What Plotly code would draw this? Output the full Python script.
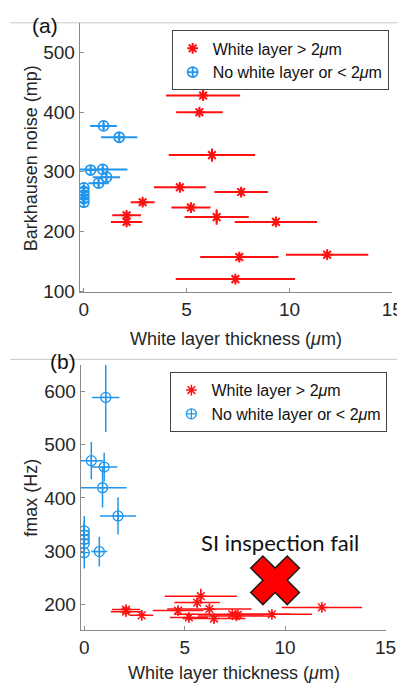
import plotly.graph_objects as go

# ---------------- data ----------------
# shared white-layer thickness of the red specimens (um) and its error
red_x = [5.8, 5.62, 6.23, 4.67, 7.65, 2.86, 5.21, 2.08, 2.08, 6.46, 9.34, 7.56, 11.83, 7.37]
red_xerr = [1.8, 1.13, 2.1, 1.26, 1.3, 0.58, 0.95, 0.7, 0.76, 1.56, 2.0, 1.9, 2.0, 2.9]
# panel (a): Barkhausen noise (mp)
red_bn = [428, 400, 328, 274, 266, 249, 240, 227, 216, 224, 216, 157, 161, 120]
red_bn_err = [7, 4, 11, 5, 7, 6, 4, 5, 5, 13, 6, 6, 4, 5]
# panel (b): fmax (Hz)
red_fmax = [215, 203, 191, 188, 180, 179, 175, 190, 186, 173, 181, 178, 194, 181]
red_fmax_err = [14, 8, 9, 7, 6, 8, 7, 7, 7, 8, 6, 6, 6, 6]

# blue specimens, panel (a)
blue_a_x = [0.96, 1.72, 0.33, 0.92, 1.1, 0.72, 0, 0, 0, 0, 0]
blue_a_xerr = [0.65, 0.88, 0.3, 1.2, 0.66, 0.5, 0, 0, 0, 0, 0]
blue_a_bn = [377, 358, 303, 304, 291, 281, 273, 267, 261, 255, 249]
blue_a_bn_err = [5, 5, 4, 5, 7, 6, 5, 5, 5, 5, 5]
# blue specimens, panel (b)
blue_b_x = [1.07, 0.35, 0.99, 0.91, 1.68, 0.75, 0, 0, 0, 0, 0]
blue_b_xerr = [0.68, 0.6, 0.66, 1.2, 0.9, 0.4, 0, 0, 0, 0, 0]
blue_b_fmax = [589, 470, 458, 419, 366, 299, 338, 330, 322, 314, 297]
blue_b_fmax_err = [65, 35, 27, 37, 35, 28, 28, 28, 28, 28, 30]

fail_x = [9.5]
fail_y = [245]

RED = "#ff1010"
BLUE = "#2196ec"
W, H = 405, 686
FONT = "Liberation Sans, Arial, sans-serif"

fig = go.Figure()

def err(arr, color, th):
    return dict(type="data", array=arr, visible=True, color=color, thickness=th, width=0)

# panel (a)
fig.add_trace(go.Scatter(
    x=red_x, y=red_bn, mode="markers", name="White layer &gt; 2<i>μ</i>m",
    error_x=err(red_xerr, RED, 2), error_y=err(red_bn_err, RED, 2),
    marker=dict(symbol="asterisk-open", size=9, color=RED, line=dict(color=RED, width=2)),
    xaxis="x", yaxis="y", legend="legend"))
fig.add_trace(go.Scatter(
    x=blue_a_x, y=blue_a_bn, mode="markers", name="No white layer or &lt; 2<i>μ</i>m",
    error_x=err(blue_a_xerr, BLUE, 2), error_y=err(blue_a_bn_err, BLUE, 2),
    marker=dict(symbol="circle-cross-open", size=10, color=BLUE, line=dict(color=BLUE, width=1.8)),
    xaxis="x", yaxis="y", legend="legend"))

# panel (b)
fig.add_trace(go.Scatter(
    x=red_x, y=red_fmax, mode="markers", name="White layer &gt; 2<i>μ</i>m",
    error_x=err(red_xerr, RED, 1.5), error_y=err(red_fmax_err, RED, 1.5),
    marker=dict(symbol="asterisk-open", size=9, color=RED, line=dict(color=RED, width=1.5)),
    xaxis="x2", yaxis="y2", legend="legend2"))
fig.add_trace(go.Scatter(
    x=blue_b_x, y=blue_b_fmax, mode="markers", name="No white layer or &lt; 2<i>μ</i>m",
    error_x=err(blue_b_xerr, BLUE, 1.5), error_y=err(blue_b_fmax_err, BLUE, 1.5),
    marker=dict(symbol="circle-cross-open", size=10, color=BLUE, line=dict(color=BLUE, width=1.3)),
    xaxis="x2", yaxis="y2", legend="legend2"))
fig.add_trace(go.Scatter(
    x=fail_x, y=fail_y, mode="markers", showlegend=False,
    marker=dict(symbol="x", size=43, color="#ff0000", line=dict(color="#1a1a1a", width=1.5)),
    xaxis="x2", yaxis="y2"))

axis_common = dict(
    showline=True, linecolor="#8a8a8a", linewidth=1, mirror=False,
    ticks="inside", ticklen=4, tickcolor="#8a8a8a",
    showgrid=False, zeroline=False,
    tickfont=dict(family=FONT, size=19, color="#262626"),
)

fig.update_layout(
    width=W, height=H, margin=dict(l=0, r=0, t=0, b=0),
    paper_bgcolor="white", plot_bgcolor="white",
    xaxis=dict(domain=[72 / W, 395 / W], range=[-0.2, 15], tickvals=[0, 5, 10, 15],
               anchor="y", **axis_common),
    yaxis=dict(domain=[1 - 288 / H, 1 - 15 / H], range=[98, 550], tickvals=[100, 200, 300, 400, 500],
               anchor="x", **axis_common),
    xaxis2=dict(domain=[73 / W, 388 / W], range=[-0.18, 15], tickvals=[0, 5, 10, 15],
                anchor="y2", **axis_common),
    yaxis2=dict(domain=[1 - 630 / H, 1 - 361.7 / H], range=[152, 650], tickvals=[200, 300, 400, 500, 600],
                anchor="x2", **axis_common),
    legend=dict(x=167 / W, y=1 - 22.7 / H, xanchor="left", yanchor="top",
                bgcolor="white", bordercolor="#444444", borderwidth=1, itemwidth=30,
                font=dict(family=FONT, size=16, color="#111111"), tracegroupgap=0),
    legend2=dict(x=165.7 / W, y=1 - 369 / H, xanchor="left", yanchor="top",
                 bgcolor="white", bordercolor="#444444", borderwidth=1, itemwidth=30,
                 font=dict(family=FONT, size=16, color="#111111"), tracegroupgap=0),
    showlegend=True,
)

# separator lines
for yp in (15, 356):
    fig.add_shape(type="line", xref="paper", yref="paper", x0=0, x1=1,
                  y0=1 - yp / H, y1=1 - yp / H, line=dict(color="#c8c8c8", width=1), layer="below")

def ann(text, xp, yp, size, angle=0, family=FONT, color="#262626"):
    fig.add_annotation(text=text, xref="paper", yref="paper", x=xp / W, y=1 - yp / H,
                       xanchor="center", yanchor="middle", showarrow=False, textangle=angle,
                       font=dict(family=family, size=size, color=color))

ann("(a)", 36, 18, 21, color="#111111")
ann("(b)", 55, 358, 21, color="#111111")
ann("White layer thickness (<i>μ</i>m)", 234, 335, 18)
ann("White layer thickness (<i>μ</i>m)", 231, 674, 18)
ann("Barkhausen noise (mp)", 22, 152, 18, angle=-90)
ann("fmax (Hz)", 22, 496, 18, angle=-90)

fig.add_annotation(text="SI inspection fail", xref="x2", yref="y2", x=9.74, y=317,
                   showarrow=False, xanchor="center", yanchor="middle",
                   font=dict(family="Lato, Open Sans, sans-serif", size=22, color="#111111"))

fig.write_html("out.html")
